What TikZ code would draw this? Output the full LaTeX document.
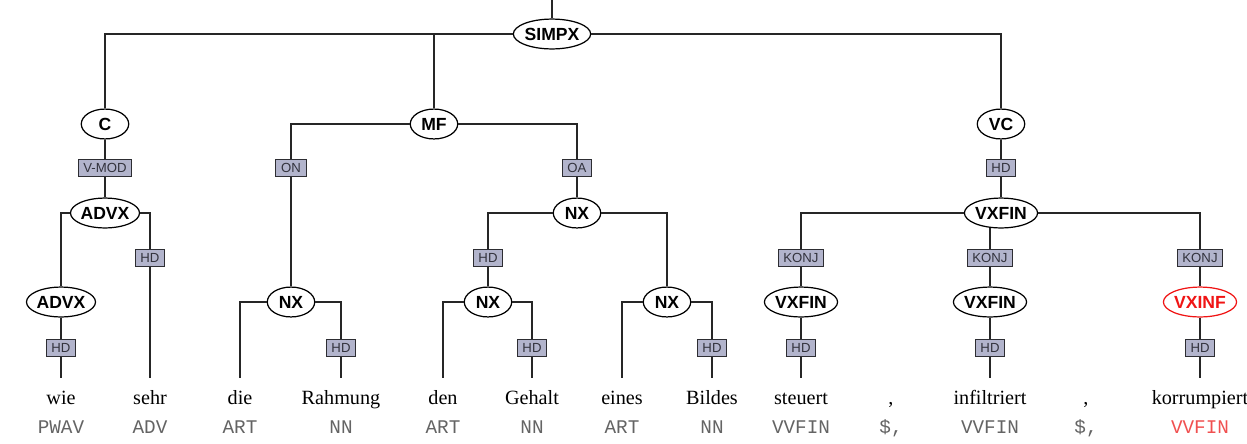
\documentclass[tikz,border=0pt]{standalone}
\usepackage{fontspec}
\setmainfont{Liberation Serif}
\setsansfont{Liberation Sans}
\setmonofont{Liberation Mono}
\usetikzlibrary{shapes.geometric}
\definecolor{edgefill}{RGB}{178,180,204}
\definecolor{edgeline}{RGB}{45,45,50}
\definecolor{edgetext}{RGB}{50,50,60}
\definecolor{tagtext}{RGB}{100,100,100}
\definecolor{err}{RGB}{240,20,20}
\definecolor{errtag}{RGB}{240,80,80}
\tikzset{
  tline/.style={black!85,line width=0.8pt},
  tcat/.style={ellipse,draw=black,fill=white,line width=0.7pt,inner xsep=0pt,inner ysep=1pt,
    minimum width=27pt,minimum height=17pt,font=\sffamily\bfseries\fontsize{10}{12}\selectfont},
  tedge/.style={rectangle,draw=edgeline,fill=edgefill,line width=0.6pt,text=edgetext,
    inner xsep=3pt,inner ysep=0pt,minimum height=10pt,font=\sffamily\fontsize{7.5}{9}\selectfont},
  tword/.style={anchor=north,inner xsep=0pt,inner ysep=5.7pt,text height=9pt,text depth=3pt,
    font=\fontsize{11.5}{14}\selectfont},
  ttag/.style={anchor=base,inner sep=0pt,text=tagtext,font=\ttfamily\fontsize{11}{13}\selectfont},
}
\begin{document}
\begin{tikzpicture}[x=0.02cm,y=-0.02cm]
  \useasboundingbox (0,0) rectangle (1247,443);
  % words and tags
  \foreach \x/\n/\w/\t in {61/w1/wie/PWAV,150/w2/sehr/ADV,240/w3/die/ART,341/w4/Rahmung/NN,
                           443/w5/den/ART,532/w6/Gehalt/NN,622/w7/eines/ART,712/w8/Bildes/NN,
                           801/w9/steuert/VVFIN,891/w10/{,}/{\$,},990/w11/infiltriert/VVFIN,
                           1086/w12/{,}/{\$,}}
    {\node[tword] (\n) at (\x,378) {\w}; \node[ttag] (\n t) at (\x,433) {\t};}
  \node[tword] (w13) at (1200,378) {korrumpiert};
  \node[ttag,text=errtag] (w13t) at (1200,433) {VVFIN};
  % categories
  \coordinate (top) at (552,0);
  \node[tcat] (simpx) at (552,34) {SIMPX};
  \node[tcat] (c) at (105,124) {C};
  \node[tcat] (mf) at (434,124) {MF};
  \node[tcat] (vc) at (1001,124) {VC};
  \node[tcat] (advx) at (105,213) {ADVX};
  \node[tcat] (advx1) at (61,302) {ADVX};
  \node[tcat] (nx1) at (291,302) {NX};
  \node[tcat] (nx2) at (577,213) {NX};
  \node[tcat] (nx3) at (488,302) {NX};
  \node[tcat] (nx4) at (667,302) {NX};
  \node[tcat] (vxfin) at (1001,213) {VXFIN};
  \node[tcat] (vxfin1) at (801,302) {VXFIN};
  \node[tcat] (vxfin2) at (990,302) {VXFIN};
  \node[tcat,draw=err,text=err] (vxinf) at (1200,302) {VXINF};
  % edge labels
  \node[tedge] (e1) at (105,168) {V-MOD};
  \node[tedge] (e2) at (150,258) {HD};
  \node[tedge] (e3) at (61,348) {HD};
  \node[tedge] (e4) at (291,168) {ON};
  \node[tedge] (e5) at (341,348) {HD};
  \node[tedge] (e6) at (577,168) {OA};
  \node[tedge] (e7) at (488,258) {HD};
  \node[tedge] (e8) at (532,348) {HD};
  \node[tedge] (e9) at (712,348) {HD};
  \node[tedge] (e10) at (1001,168) {HD};
  \node[tedge] (e11) at (801,258) {KONJ};
  \node[tedge] (e12) at (801,348) {HD};
  \node[tedge] (e13) at (990,258) {KONJ};
  \node[tedge] (e14) at (990,348) {HD};
  \node[tedge] (e15) at (1200,258) {KONJ};
  \node[tedge] (e16) at (1200,348) {HD};
  % branches
  \draw[tline] (top) -- (simpx);
  \draw[tline] (simpx) -| (c);
  \draw[tline] (simpx) -| (mf);
  \draw[tline] (simpx) -| (vc);
  \draw[tline] (c) -- (e1) -- (advx);
  \draw[tline] (advx) -| (advx1) -- (e3) -- (w1);
  \draw[tline] (advx) -| (e2) -- (w2);
  \draw[tline] (mf) -| (e4) -- (nx1);
  \draw[tline] (nx1) -| (w3);
  \draw[tline] (nx1) -| (e5) -- (w4);
  \draw[tline] (mf) -| (e6) -- (nx2);
  \draw[tline] (nx2) -| (e7) -- (nx3);
  \draw[tline] (nx2) -| (nx4);
  \draw[tline] (nx3) -| (w5);
  \draw[tline] (nx3) -| (e8) -- (w6);
  \draw[tline] (nx4) -| (w7);
  \draw[tline] (nx4) -| (e9) -- (w8);
  \draw[tline] (vc) -- (e10) -- (vxfin);
  \draw[tline] (vxfin) -| (e11) -- (vxfin1) -- (e12) -- (w9);
  \draw[tline] ([yshift=0.5pt]vxfin.south -| e13) -- (e13) -- (vxfin2) -- (e14) -- (w11);
  \draw[tline] (vxfin) -| (e15) -- (vxinf) -- (e16) -- (w13);
\end{tikzpicture}
\end{document}
